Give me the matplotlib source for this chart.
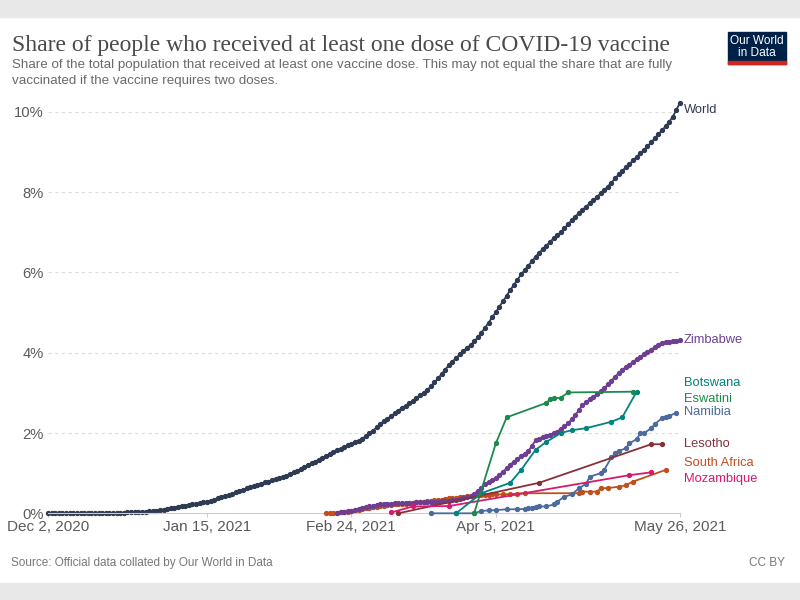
import pandas as pd
import matplotlib.pyplot as plt
import matplotlib.dates as mdates
from matplotlib.patches import Rectangle

# World: one value per day from Dec 2, 2020 (share of population, %)
world_start = "2020-12-02"
world_values = [
    0.00, 0.00, 0.00, 0.00, 0.00, 0.00, 0.00, 0.00, 0.00, 0.00,
    0.00, 0.00, 0.00, 0.00, 0.00, 0.01, 0.01, 0.01, 0.01, 0.01,
    0.01, 0.01, 0.02, 0.02, 0.02, 0.03, 0.03, 0.04, 0.05, 0.05,
    0.06, 0.08, 0.09, 0.11, 0.12, 0.14, 0.16, 0.18, 0.19, 0.21,
    0.22, 0.24, 0.26, 0.28, 0.29, 0.31, 0.34, 0.37, 0.40, 0.43,
    0.46, 0.49, 0.52, 0.55, 0.58, 0.62, 0.65, 0.68, 0.71, 0.74,
    0.77, 0.79, 0.82, 0.85, 0.87, 0.90, 0.94, 0.98, 1.02, 1.06,
    1.10, 1.15, 1.20, 1.25, 1.29, 1.34, 1.38, 1.43, 1.48, 1.53,
    1.57, 1.60, 1.64, 1.69, 1.73, 1.77, 1.81, 1.86, 1.92, 1.99,
    2.06, 2.14, 2.22, 2.30, 2.36, 2.42, 2.49, 2.56, 2.62, 2.68,
    2.74, 2.80, 2.87, 2.94, 3.00, 3.07, 3.16, 3.26, 3.36, 3.47,
    3.58, 3.69, 3.78, 3.87, 3.96, 4.04, 4.12, 4.19, 4.28, 4.38,
    4.50, 4.62, 4.75, 4.88, 5.01, 5.15, 5.28, 5.42, 5.56, 5.69,
    5.82, 5.95, 6.06, 6.17, 6.28, 6.39, 6.49, 6.58, 6.67, 6.76,
    6.85, 6.93, 7.00, 7.10, 7.20, 7.30, 7.39, 7.48, 7.56, 7.64,
    7.72, 7.80, 7.88, 7.97, 8.05, 8.14, 8.24, 8.34, 8.44, 8.53,
    8.62, 8.70, 8.79, 8.88, 8.97, 9.05, 9.14, 9.24, 9.34, 9.44,
    9.54, 9.64, 9.75, 9.88, 10.05, 10.23,
]

# Zimbabwe: daily from Feb 20, 2021
zimbabwe_start = "2021-02-20"
zimbabwe_values = [
    0.01, 0.02, 0.04, 0.05, 0.06, 0.08, 0.10, 0.13,
    0.15, 0.17, 0.19, 0.21, 0.22, 0.23, 0.24, 0.24,
    0.25, 0.25, 0.25, 0.26, 0.26, 0.26, 0.27, 0.27,
    0.27, 0.28, 0.28, 0.29, 0.29, 0.30, 0.31, 0.31,
    0.32, 0.34, 0.36, 0.38, 0.40, 0.44, 0.49, 0.55,
    0.63, 0.72, 0.77, 0.82, 0.88, 0.96, 1.04, 1.12,
    1.21, 1.29, 1.35, 1.42, 1.48, 1.55, 1.68, 1.82,
    1.86, 1.90, 1.92, 1.95, 1.99, 2.03, 2.10, 2.17,
    2.24, 2.34, 2.45, 2.57, 2.70, 2.77, 2.84, 2.90,
    2.97, 3.04, 3.11, 3.21, 3.30, 3.40, 3.49, 3.57,
    3.64, 3.70, 3.77, 3.84, 3.90, 3.96, 4.02, 4.08,
    4.14, 4.20, 4.25, 4.26, 4.27, 4.29, 4.30, 4.32,
]

# South Africa: daily Feb 17 - Apr 5, then sparse reports
sa_start = "2021-02-17"
sa_daily_values = [
    0.00, 0.00, 0.01, 0.01, 0.02, 0.03, 0.04, 0.05,
    0.07, 0.09, 0.10, 0.12, 0.13, 0.15, 0.16, 0.18,
    0.19, 0.20, 0.21, 0.22, 0.23, 0.23, 0.24, 0.25,
    0.26, 0.27, 0.28, 0.29, 0.30, 0.31, 0.32, 0.33,
    0.34, 0.35, 0.37, 0.38, 0.39, 0.40, 0.41, 0.42,
    0.43, 0.44, 0.45, 0.46, 0.46, 0.46, 0.47, 0.47,
]
sa_sparse_dates = ["2021-04-07", "2021-04-09", "2021-04-11", "2021-04-13", "2021-04-28",
                   "2021-04-29", "2021-05-01", "2021-05-03", "2021-05-04", "2021-05-06",
                   "2021-05-09", "2021-05-11", "2021-05-13", "2021-05-22"]
sa_sparse_values = [0.47, 0.48, 0.49, 0.50, 0.50, 0.54, 0.54, 0.54, 0.62, 0.63,
                    0.66, 0.70, 0.79, 1.08]

namibia_dates = ["2021-03-18", "2021-03-25", "2021-03-30", "2021-04-01", "2021-04-03",
                 "2021-04-05", "2021-04-08", "2021-04-11", "2021-04-13", "2021-04-14",
                 "2021-04-15", "2021-04-16", "2021-04-17", "2021-04-19", "2021-04-21",
                 "2021-04-22", "2021-04-24", "2021-04-26", "2021-04-28", "2021-04-30",
                 "2021-05-01", "2021-05-04", "2021-05-05", "2021-05-07", "2021-05-08",
                 "2021-05-09", "2021-05-11", "2021-05-12", "2021-05-14", "2021-05-15",
                 "2021-05-16", "2021-05-18", "2021-05-19", "2021-05-21", "2021-05-22",
                 "2021-05-23", "2021-05-25"]
namibia_values = [0.00, 0.00, 0.00, 0.06, 0.07, 0.08, 0.10, 0.10, 0.11, 0.12,
                  0.14, 0.16, 0.17, 0.17, 0.22, 0.29, 0.41, 0.47, 0.62, 0.74,
                  0.91, 1.00, 1.08, 1.39, 1.49, 1.55, 1.62, 1.74, 1.85, 1.99,
                  1.99, 2.12, 2.22, 2.37, 2.41, 2.42, 2.51]

botswana_dates = ["2021-03-25", "2021-04-01", "2021-04-09", "2021-04-12", "2021-04-16",
                  "2021-04-19", "2021-04-23", "2021-04-26", "2021-04-30", "2021-05-07",
                  "2021-05-10", "2021-05-14"]
botswana_values = [0.00, 0.50, 0.76, 1.08, 1.58, 1.78, 2.00, 2.07, 2.12, 2.28, 2.39, 3.03]

eswatini_dates = ["2021-03-30", "2021-04-05", "2021-04-08", "2021-04-19", "2021-04-20",
                  "2021-04-21", "2021-04-23", "2021-04-25", "2021-05-13"]
eswatini_values = [0.00, 1.74, 2.39, 2.75, 2.84, 2.86, 2.88, 3.01, 3.03]

lesotho_dates = ["2021-03-09", "2021-04-17", "2021-05-18", "2021-05-21"]
lesotho_values = [0.00, 0.76, 1.72, 1.72]

mozambique_dates = ["2021-03-07", "2021-03-13", "2021-03-23", "2021-05-12", "2021-05-18"]
mozambique_values = [0.02, 0.17, 0.18, 0.95, 1.02]

colors = {
    "World": "#2e3b52",
    "Zimbabwe": "#6d3e91",
    "Botswana": "#00847e",
    "Eswatini": "#1b8a4c",
    "Namibia": "#4c6a9c",
    "Lesotho": "#883039",
    "South Africa": "#c04f1b",
    "Mozambique": "#d8186e",
}
# label heights (in % units) after OWID style de-overlap
label_y = {
    "World": 10.05, "Zimbabwe": 4.32, "Botswana": 3.25, "Eswatini": 2.85,
    "Namibia": 2.52, "Lesotho": 1.72, "South Africa": 1.25, "Mozambique": 0.86,
}

series = {
    "World": (pd.date_range(world_start, periods=len(world_values)), world_values),
    "South Africa": (list(pd.date_range(sa_start, periods=len(sa_daily_values)))
                     + list(pd.to_datetime(sa_sparse_dates)),
                     sa_daily_values + sa_sparse_values),
    "Zimbabwe": (pd.date_range(zimbabwe_start, periods=len(zimbabwe_values)), zimbabwe_values),
    "Namibia": (pd.to_datetime(namibia_dates), namibia_values),
    "Lesotho": (pd.to_datetime(lesotho_dates), lesotho_values),
    "Mozambique": (pd.to_datetime(mozambique_dates), mozambique_values),
    "Botswana": (pd.to_datetime(botswana_dates), botswana_values),
    "Eswatini": (pd.to_datetime(eswatini_dates), eswatini_values),
}

sans = ["Liberation Sans", "DejaVu Sans"]
grey = "#5b5b5b"

fig = plt.figure(figsize=(8, 6), dpi=100)
fig.patch.set_facecolor("white")

# grey bands at top and bottom
fig.add_artist(Rectangle((0, 1 - 17 / 600), 1, 17 / 600, transform=fig.transFigure,
                         color="#e8e8e8", zorder=0))
fig.add_artist(Rectangle((0, 0), 1, 17 / 600, transform=fig.transFigure,
                         color="#e8e8e8", zorder=0))

ax = fig.add_axes([0.06, 0.1445, 0.79, 0.6858])
start = pd.Timestamp("2020-12-02")
end = pd.Timestamp("2021-05-26")
ax.set_xlim(start, end)
ax.set_ylim(0, 10.25)

for name, (dates, vals) in series.items():
    ax.plot(dates, vals, color=colors[name], lw=1.3, marker="o", ms=2.8,
            clip_on=False, zorder=3 if name != "World" else 2)

for name, yv in label_y.items():
    ax.text(1.006, yv, name, transform=ax.get_yaxis_transform(), color=colors[name],
            fontsize=9.3, family=sans, va="center", ha="left")

ticks = pd.to_datetime(["2020-12-02", "2021-01-15", "2021-02-24", "2021-04-05", "2021-05-26"])
ax.set_xticks(ticks)
ax.xaxis.set_major_formatter(mdates.DateFormatter("%b %-d, %Y"))
ax.set_yticks([0, 2, 4, 6, 8, 10])
ax.set_yticklabels(["0%", "2%", "4%", "6%", "8%", "10%"])
ax.tick_params(axis="x", length=3, color="#cccccc", labelsize=11, labelcolor=grey, pad=2)
ax.tick_params(axis="y", length=0, labelsize=10.6, labelcolor=grey, pad=3)
for lab in ax.get_xticklabels() + ax.get_yticklabels():
    lab.set_family(sans)

for s in ["top", "right", "left"]:
    ax.spines[s].set_visible(False)
ax.spines["bottom"].set_color("#cccccc")
ax.grid(axis="y", color="#dddddd", linestyle=(0, (3, 3)), lw=0.8)
ax.set_axisbelow(True)
ax.yaxis.get_gridlines()[0].set_visible(False)

# title block
fig.text(12 / 800, 1 - 45 / 600, "Share of people who received at least one dose of COVID-19 vaccine",
         family=["Liberation Serif", "DejaVu Serif"], fontsize=17, color="#4a4a4a", va="center")
fig.text(12 / 800, 1 - 65 / 600,
         "Share of the total population that received at least one vaccine dose. This may not equal the share that are fully",
         family=sans, fontsize=9.6, color="#6a6a6a", va="center")
fig.text(12 / 800, 1 - 81 / 600, "vaccinated if the vaccine requires two doses.",
         family=sans, fontsize=9.6, color="#6a6a6a", va="center")

# logo
fig.add_artist(Rectangle((728 / 800, 1 - 64 / 600), 58 / 800, 32 / 600, transform=fig.transFigure,
                         color="#002147", zorder=5))
fig.add_artist(Rectangle((728 / 800, 1 - 64 / 600), 58 / 800, 3 / 600, transform=fig.transFigure,
                         color="#ce261e", zorder=6))
fig.text(757 / 800, 1 - 47 / 600, "Our World\nin Data", family=sans, fontsize=8.6,
         color="white", ha="center", va="center", linespacing=1.0, zorder=7)

# footer
fig.text(11 / 800, 1 - 563 / 600, "Source: Official data collated by Our World in Data",
         family=sans, fontsize=8.5, color="#777777", va="center")
fig.text(785 / 800, 1 - 563 / 600, "CC BY", family=sans, fontsize=8.5,
         color="#777777", va="center", ha="right")

fig.savefig("out.png", dpi=100)
